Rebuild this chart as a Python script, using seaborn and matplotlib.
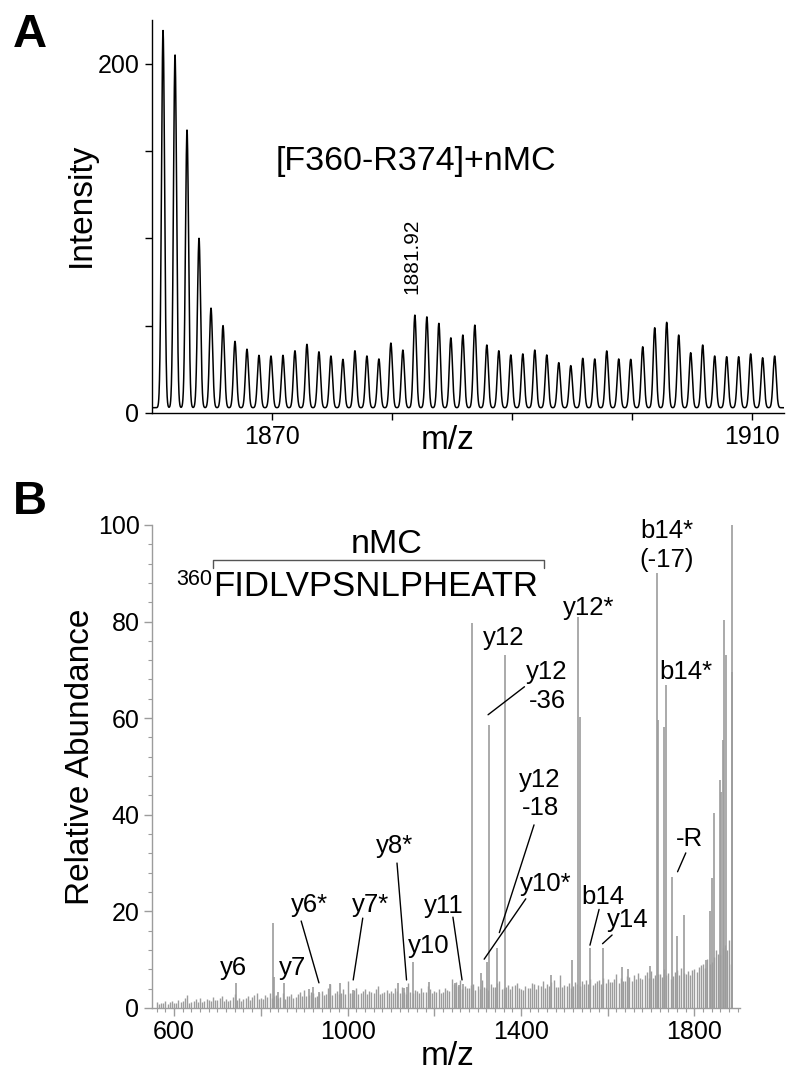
import numpy as np
import matplotlib
matplotlib.use("Agg")
import matplotlib.pyplot as plt
import seaborn as sns
from matplotlib.ticker import MultipleLocator, FixedLocator

# ---- panel A: isotope cluster profile ----
a_mz_first = 1860.92
a_heights = [219, 205, 162, 100, 60, 50, 41, 36.5, 33, 32.6,
             33, 35.6, 39.3, 35, 32.6, 30.7, 35.6, 32.6, 30.9, 40,
             36, 56, 55, 51.3, 43, 44.6, 50.3, 38.9, 35.6, 33.2,
             33.8, 36, 33.2, 28.8, 27.1, 31.3, 30.9, 35.5, 30.9, 30.7,
             37.9, 48.8, 51.9, 44.6, 34.5, 38.9, 32.6, 32.2, 32.2, 33.8,
             31.6, 32.6]
a_baseline = 3.0

# ---- panel B: MS/MS stick spectrum ----
b_mz = [743, 827, 830, 839, 853, 911, 920, 934, 960, 983, 1013,
        1117, 1129, 1138, 1151, 1188, 1248, 1256, 1266, 1286, 1307,
        1321, 1327, 1344, 1363, 1469, 1517, 1532, 1535, 1560, 1588,
        1632, 1647, 1697, 1714, 1717, 1730, 1735, 1749, 1760, 1776,
        1826, 1836, 1841, 1845, 1860, 1862, 1866, 1869, 1872, 1886, 1887]
b_int = [5.2, 17.6, 6.5, 3.4, 5.2, 4.0, 4.3, 3.4, 5.0, 5.2, 3.8,
         5.2, 4.1, 4.3, 9.6, 5.4, 5.2, 4.8, 5.0, 79.7, 7.2,
         9.6, 58.6, 12.4, 73.0, 6.8, 10.0, 81.0, 60.3, 12.4, 12.5,
         8.4, 8.0, 8.7, 90.0, 59.6, 58.2, 66.9, 27.2, 14.8, 19.3,
         10.0, 20.0, 27.0, 40.3, 47.2, 44.8, 55.5, 80.3, 73.0, 100.0, 69.6]
# background "grass", one value every 5 m/z from 560 (two interleaved rows)
bg_start, bg_step = 560, 10
bg_int = [1.2, 1.0, 1.5, 1.3, 1.1, 1.6, 1.4, 2.6, 1.3, 1.8, 2.0, 1.5, 1.7, 2.2,
          1.6, 2.4, 1.9, 1.7, 2.8, 2.0, 1.8, 2.5, 2.2, 3.0,
          2.1, 2.6, 3.2, 2.4, 2.0, 3.0, 2.5, 2.8, 2.2, 3.4,
          3.8, 2.6, 3.1, 2.4, 3.6, 2.9, 5.0, 3.2, 2.8, 4.0,
          5.5, 3.0, 4.2, 3.1, 4.0, 3.5, 3.2, 4.5, 3.0, 3.8,
          3.6, 4.2, 3.0, 3.4, 5.2, 3.1, 3.6, 4.2, 3.3, 3.9,
          3.5, 4.0, 3.4, 3.8, 6.0, 5.4, 5.8, 4.6, 4.2, 5.0,
          4.5, 5.8, 4.2, 5.0, 4.4, 5.5, 4.1, 4.8, 4.6, 5.2,
          4.0, 4.6, 4.2, 5.0, 4.8, 5.6, 4.9, 5.4, 4.4, 6.8,
          4.8, 5.2, 4.6, 5.0, 5.5, 5.8, 6.0, 5.2, 5.8, 6.2,
          6.0, 5.4, 7.0, 6.2, 5.6, 6.4, 6.8, 7.2, 6.0, 7.4,
          7.6, 6.8, 7.0, 8.0, 7.2, 6.6, 7.8, 8.2, 7.0, 6.8,
          8.0, 8.5, 9.0, 10.2, 9.5, 12.0, 11.0, 13.0, 14.0]
bg_int2 = [0.8, 1.1, 0.9, 1.4, 1.0, 1.2, 2.0, 1.1, 1.5, 1.3, 1.2, 1.9, 1.4, 1.6,
           2.0, 1.5, 1.4, 2.2, 1.6, 1.5, 2.1, 1.7, 2.6, 1.9,
           1.8, 2.2, 2.0, 2.7, 2.3, 1.9, 2.4, 2.0, 2.9, 2.5,
           2.4, 3.4, 2.2, 3.0, 2.6, 4.2, 2.7, 3.6, 3.0, 2.8,
           3.2, 3.8, 2.9, 3.6, 2.8, 3.3, 4.0, 2.9, 3.4, 3.1,
           3.0, 3.5, 4.4, 2.9, 3.3, 3.8, 3.0, 3.4, 4.6, 3.2,
           3.3, 3.0, 4.2, 3.5, 5.0, 4.6, 3.9, 4.1, 4.8, 3.8,
           4.0, 4.4, 3.8, 4.3, 5.2, 3.9, 4.4, 4.0, 4.7, 4.2,
           3.8, 4.2, 5.1, 4.0, 4.5, 4.1, 4.6, 5.8, 4.3, 4.4,
           4.6, 4.2, 5.4, 4.6, 4.9, 5.0, 4.7, 5.5, 5.0, 5.1,
           5.3, 6.0, 5.2, 5.6, 6.6, 5.5, 5.9, 6.2, 6.8, 6.1,
           6.2, 7.0, 6.4, 6.8, 6.0, 7.4, 6.9, 7.2, 7.6, 7.8,
           7.5, 8.8, 8.2, 9.0, 10.5, 11.2, 12.5, 12.0, 9.0]

# fragment labels: text, text position, optional leader line (x0, y0, x1, y1)
frag_text = ["y6", "y7", "y6*", "y7*", "y8*", "y10", "y11", "y10*",
             "y12\n-18", "y12\n-36", "y12", "y12*", "b14*\n(-17)", "b14*",
             "-R", "b14", "y14"]
frag_xy = [(736, 8.3), (872, 8.3), (911, 21.3), (1052, 21.3), (1109, 33.6),
           (1186, 12.8), (1222, 21.1), (1458, 25.7), (1444, 44.3),
           (1460, 66.5), (1361, 76.6), (1557, 82.8), (1736, 95.7),
           (1780, 69.6), (1789, 35.0), (1589, 23.0), (1647, 18.2)]
frag_lines = [None, None, (893, 18.0, 934, 5.2), (1035, 18.6, 1013, 5.8),
              (1114, 30.0, 1136, 5.8), None, (1243, 18.8, 1264, 5.8),
              (1411, 22.6, 1315, 10.1), (1430, 37.9, 1350, 15.6),
              (1408, 66.5, 1324, 60.7), None, None, None, None,
              (1780, 32.1, 1761, 28.2), (1580, 20.4, 1559, 13.0),
              (1610, 15.1, 1588, 13.3)]

sns.set_theme(style="ticks")
plt.rcParams["font.family"] = ["Liberation Sans", "DejaVu Sans"]
plt.rcParams["text.color"] = "black"
plt.rcParams["axes.labelcolor"] = "black"
plt.rcParams["xtick.labelcolor"] = "black"
plt.rcParams["ytick.labelcolor"] = "black"

fig = plt.figure(figsize=(8, 10.85), dpi=100)
axA = fig.add_axes([0.19, 0.6194, 0.79, 0.3622])
axB = fig.add_axes([0.19, 0.071, 0.735, 0.4452])

# panel A profile from the peak list
centers = a_mz_first + np.arange(len(a_heights))
x = np.linspace(1860, 1912.7, 6000)
y = np.full_like(x, a_baseline)
for c, h in zip(centers, a_heights):
    y += (h - a_baseline) * np.exp(-((x - c) ** 2) / (2 * 0.13 ** 2))
sns.lineplot(x=x, y=y, ax=axA, color="black", linewidth=1.1, sort=False)

axA.set_xlim(1860, 1912.7)
axA.set_ylim(0, 225)
sns.despine(ax=axA)
for s in ["left", "bottom"]:
    axA.spines[s].set_color("black")
    axA.spines[s].set_linewidth(1.0)
axA.yaxis.set_major_locator(FixedLocator([0, 50, 100, 150, 200]))
axA.set_yticklabels(["0", "", "", "", "200"])
axA.xaxis.set_major_locator(FixedLocator([1870, 1880, 1890, 1900, 1910]))
axA.set_xticklabels(["1870", "", "", "", "1910"])
axA.tick_params(direction="out", length=5, width=1, labelsize=18, pad=4, color="black")
axA.set_xlabel("m/z", fontsize=24)
axA.set_ylabel("Intensity", fontsize=24)
axA.xaxis.set_label_coords(0.467, -0.07)
axA.yaxis.set_label_coords(-0.112, 0.53)
axA.xaxis.label.set_va("center")
axA.yaxis.label.set_va("center")
axA.text(1882, 143.8, "[F360-R374]+nMC", fontsize=24.5, ha="center", va="center")
axA.text(1881.67, 89.4, "1881.92", fontsize=15, rotation=90, ha="center", va="center")

# panel B stick spectrum
gray = "#9c9c9c"
bg_mz = bg_start + bg_step * np.arange(len(bg_int))
axB.vlines(bg_mz, 0, bg_int, color=gray, linewidth=1.0)
axB.vlines(bg_mz[:len(bg_int2)] + 5, 0, bg_int2, color=gray, linewidth=1.0)
axB.vlines(b_mz, 0, b_int, color=gray, linewidth=1.2)
axB.set_xlim(549, 1905)
axB.set_ylim(0, 100)
sns.despine(ax=axB)
for s in ["left", "bottom"]:
    axB.spines[s].set_color(gray)
    axB.spines[s].set_linewidth(1.0)
axB.yaxis.set_major_locator(MultipleLocator(20))
axB.yaxis.set_minor_locator(MultipleLocator(4))
axB.xaxis.set_major_locator(FixedLocator([600, 800, 1000, 1200, 1400, 1600, 1800]))
axB.set_xticklabels(["600", "", "1000", "", "1400", "", "1800"])
axB.xaxis.set_minor_locator(MultipleLocator(20))
axB.tick_params(which="major", direction="out", length=6, width=1, color=gray,
                labelsize=18, pad=3)
axB.tick_params(which="minor", direction="out", length=3, width=0.8, color=gray)
axB.set_xlabel("m/z", fontsize=24)
axB.set_ylabel("Relative Abundance", fontsize=24)
axB.xaxis.set_label_coords(0.503, -0.101)
axB.yaxis.set_label_coords(-0.1224, 0.52)
axB.xaxis.label.set_va("center")
axB.yaxis.label.set_va("center")

for t, (tx, ty), ln in zip(frag_text, frag_xy, frag_lines):
    axB.text(tx, ty, t, fontsize=18.5, ha="center", va="center", linespacing=1.25)
    if ln is not None:
        axB.plot([ln[0], ln[2]], [ln[1], ln[3]], color="black", linewidth=1.0)

# sequence with bracket
axB.text(1091, 95.9, "nMC", fontsize=24.5, ha="center", va="center")
axB.plot([690.6, 690.6, 1452, 1452], [91.1, 92.8, 92.8, 91.1], color="#555555", linewidth=1.0)
axB.text(690.6, 87.2, "FIDLVPSNLPHEATR", fontsize=25, ha="left", va="center")
axB.text(688, 88.6, "360", fontsize=15.5, ha="right", va="center")

fig.text(30 / 800, 1 - 35 / 1085, "A", fontsize=34, fontweight="bold", ha="center", va="center")
fig.text(30 / 800, 1 - 502 / 1085, "B", fontsize=34, fontweight="bold", ha="center", va="center")

fig.savefig("out.png", dpi=100)
